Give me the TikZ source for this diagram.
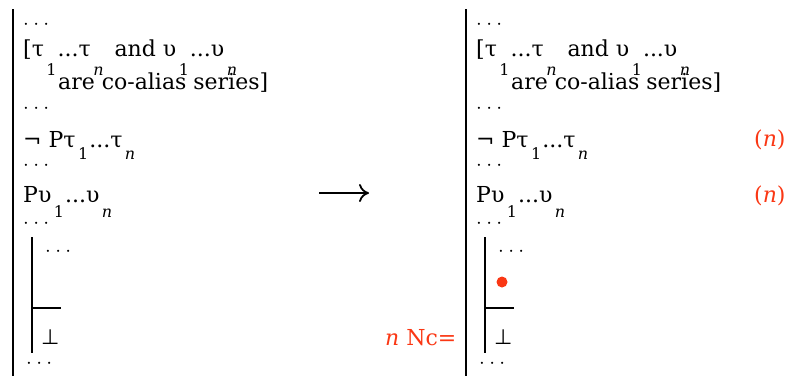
\documentclass[tikz,border=0pt]{standalone}
\usepackage{fontspec}
\setmainfont{DejaVu Serif}
\newfontfamily\symf{DejaVu Sans}
\usetikzlibrary{arrows.meta}
\definecolor{rd}{RGB}{250,55,20}
\newcommand\sbx[2]{\kern2.5pt\raisebox{-#1pt}{\fontsize{16}{16}\selectfont #2}\kern1pt}
\newcommand\dts{$\cdot$\kern4.4pt$\cdot$\kern4.4pt$\cdot$}
\newcommand\proofbody{%
  \coordinate (bt0) at (13,9);
  \coordinate (bb0) at (13,376);
  \draw[mainbar] (bt0) -- (bb0);
  \node[dtxt] (d1) at (23,29) {\dts};
  \node[txt] (la) at (23,56) {[τ\sbx{19}{1}...τ\sbx{19}{\textit{n}}\hspace{3pt} and υ\sbx{19}{1}...υ\sbx{19}{\textit{n}}};
  \node[txt] (lb) at (58,89) {are co-alias series]};
  \node[dtxt] (d2) at (23,113) {\dts};
  \node[txt] (lc) at (23,147) {¬ Pτ\sbx{12}{1}...τ\sbx{12}{\textit{n}}};
  \node[dtxt] (d3) at (23,170) {\dts};
  \node[txt] (ld) at (23,202) {Pυ\sbx{15}{1}...υ\sbx{15}{\textit{n}}};
  \node[dtxt] (d4) at (23,228) {\dts};
  \coordinate (it) at (32,237);
  \coordinate (ib) at (32,353);
  \coordinate (hl) at (32,308);
  \coordinate (hr) at (61,308);
  \draw[subbar] (it) -- (ib);
  \draw[subbar] (hl) -- (hr);
  \node[dtxt] (d5) at (45,256) {\dts};
  \node[btxt] (bt) at (41,344) {⊥};
  \node[dtxt] (d6) at (26,368) {\dts};
}
\begin{document}
\begin{tikzpicture}[x=1pt,y=-1pt,
  txt/.style={anchor=base west,inner sep=0pt,font=\fontsize{22}{26}\selectfont},
  dtxt/.style={anchor=base west,inner sep=0pt,font=\fontsize{20}{24}\selectfont},
  btxt/.style={anchor=base west,inner sep=0pt,font=\symf\fontsize{21}{26}\selectfont},
  mainbar/.style={line width=2.6pt},
  subbar/.style={line width=2pt},
  redtxt/.style={txt,text=rd}]
\useasboundingbox (0,0) rectangle (794,376);
\begin{scope}[name prefix=L-]
  \proofbody
\end{scope}
\begin{scope}[xshift=453pt,name prefix=R-]
  \proofbody
\end{scope}
\coordinate (a0) at (319,193);
\coordinate (a1) at (369,193);
\draw[line width=1.8pt,-{To[length=10pt,width=18pt]}] (a0) -- (a1);
\node[redtxt] (n1) at (754,146) {(\textit{n})};
\node[redtxt] (n2) at (754,202) {(\textit{n})};
\node[redtxt] (nc) at (385,345) {\textit{n} Nc=};
\fill[rd] (502,282) circle (5.5pt) node (dot) {};
\end{tikzpicture}
\end{document}
